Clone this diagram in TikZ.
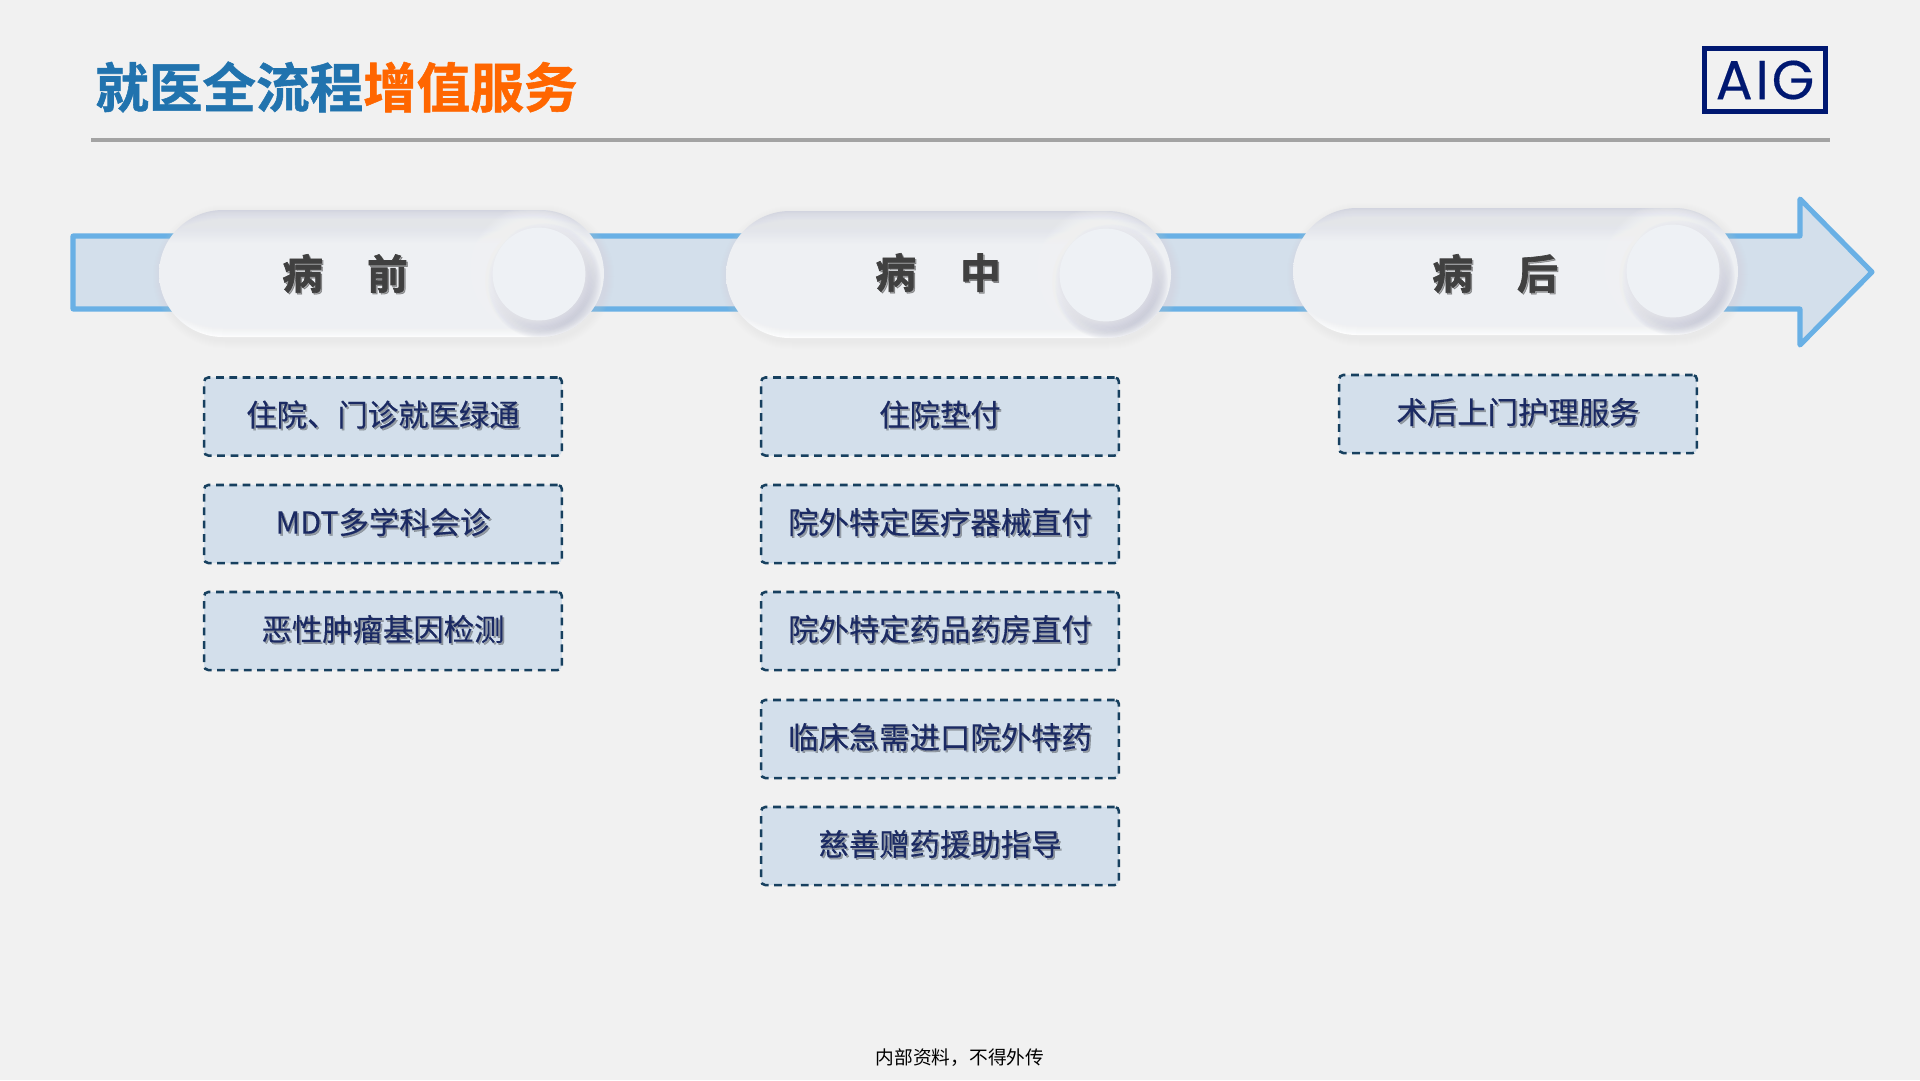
\documentclass[tikz,border=0pt]{standalone}
\usepackage{fontspec}
\setmainfont{Noto Sans CJK SC}
\newfontfamily\cjkreg{Noto Sans CJK SC}
\newfontfamily\cjkbox[FakeBold=0.25]{Noto Sans CJK SC}
\newfontfamily\cjkbold[FakeBold=1.0]{Noto Sans CJK SC Bold}
\newfontfamily\cjkhead[FakeBold=1.6]{Noto Sans CJK SC Bold}
\newfontfamily\logofont[FakeBold=0.3,LetterSpace=5]{Poppins}
\definecolor{bgc}{HTML}{F1F1F1}
\definecolor{arrowline}{HTML}{69B0E5}
\definecolor{arrowfill}{HTML}{D3DFEB}
\definecolor{titleblue}{HTML}{2173AE}
\definecolor{titleorange}{HTML}{FF6600}
\definecolor{rulegray}{HTML}{A3A3A3}
\definecolor{aigblue}{HTML}{001871}
\definecolor{pillbase}{HTML}{EEF0F3}
\definecolor{pillshadow}{HTML}{D2D4DF}
\definecolor{knobshadow}{HTML}{B4B6CA}
\definecolor{knobc}{HTML}{EEF1F5}
\definecolor{boxline}{HTML}{17405F}
\definecolor{boxtext}{HTML}{1B2A63}
\definecolor{headtext}{HTML}{404040}
\pgfdeclareverticalshading{pillshade}{100bp}{
  color(0bp)=(white!90!pillbase); color(25bp)=(white!90!pillbase);
  color(36bp)=(pillbase); color(62bp)=(pillbase);
  color(75bp)=(pillshadow); color(100bp)=(pillshadow)}
\tikzset{
  servicebox/.style={draw=boxline,fill=arrowfill,line width=1.8pt,dash pattern=on 5.5pt off 4pt,
    rounded corners=3pt,minimum width=254.5pt,minimum height=55.5pt,inner sep=0pt},
  servicetext/.style={font=\cjkbox\fontsize{21.6}{24}\selectfont,text=boxtext,inner sep=0pt},
  serviceshadow/.style={font=\cjkbox\fontsize{21.6}{24}\selectfont,text=black,opacity=0.3,inner sep=0pt},
  headlabel/.style={font=\cjkhead\fontsize{29}{32}\selectfont,text=headtext,inner sep=0pt},
  headshadow/.style={font=\cjkhead\fontsize{29}{32}\selectfont,text=black,opacity=0.3,inner sep=0pt},
  knobdisc/.style={circle,fill=knobc,draw=none,minimum size=66pt,inner sep=0pt},
}
% #1 left, #2 top, #3 knob centre x, #4 knob centre y
\newcommand{\neupill}[4]{%
  \pgfmathsetmacro{\pr}{#1+445}\pgfmathsetmacro{\pb}{#2+127}%
  \foreach \i in {1,...,8}{
    \fill[pillshadow,opacity=0.03,rounded corners=1.6cm+\i*0.025cm]
      (#1+2-\i,#2+3-\i) rectangle (\pr+2+\i,\pb+3+\i);
  }
  \begin{scope}
    \clip[rounded corners=1.6cm] (#1,#2) rectangle (\pr,\pb);
    \shade[shading=pillshade] (#1,#2) rectangle (\pr,\pb);
    \foreach \i in {1,...,24}{
      \pgfmathsetmacro{\ri}{1.6-\i*0.025}
      \fill[pillbase,opacity=0.09,rounded corners=\ri cm]
        (#1+\i,#2+\i) rectangle (\pr-\i,\pb-\i);
    }
    % dark shadow, down and to the right
    \foreach \i in {1,...,12}{
      \pgfmathsetmacro{\ra}{59-\i*1.1}
      \fill[knobshadow,opacity=0.07] (#3+4,#4+7) circle[radius=\ra*1];
    }
    % white glow around the knob, up and to the left
    \foreach \i in {1,...,14}{
      \pgfmathsetmacro{\ra}{64-\i*1.2}
      \fill[white,opacity=0.06] (#3-6,#4-5) circle[radius=\ra*1];
    }
  \end{scope}
}
\begin{document}
\begin{tikzpicture}[x=0.025cm,y=-0.025cm]
\useasboundingbox (0,0) rectangle (1920,1080);
\fill[bgc] (0,0) rectangle (1920,1080);

% title and rule
\node[anchor=west,inner sep=0pt,font=\cjkbold\fontsize{38.1}{42}\selectfont] (title) at (95,87)
  {\textcolor{titleblue}{就医全流程}\textcolor{titleorange}{增值服务}};
\coordinate (ruleL) at (91,140);
\coordinate (ruleR) at (1830,140);
\draw[rulegray,line width=2.2pt] (ruleL) -- (ruleR);

% logo
\node[draw=aigblue,line width=3.6pt,minimum width=86pt,minimum height=45pt,inner sep=0pt,
  text=aigblue,font=\logofont\fontsize{39}{40}\selectfont] (logo) at (1765,80) {AIG};

% timeline arrow
\draw[draw=arrowline,fill=arrowfill,line width=3.6pt,line join=round]
  (73,236) -- (1800,236) -- (1800,199) -- (1872,272) -- (1800,345) -- (1800,309) -- (73,309) -- cycle;

% pills
\neupill{159}{210}{539}{274}
\neupill{726}{211}{1106}{275}
\neupill{1293}{208}{1673}{271}
\node[knobdisc] (knobA) at (539,274) {};
\node[knobdisc] (knobB) at (1106,275) {};
\node[knobdisc] (knobC) at (1673,271) {};

\node[headshadow] (headAs) at (346.5,275) {病\hspace{1.08em}前};
\node[headlabel]  (headA)  at (345,273.5) {病\hspace{1.08em}前};
\node[headshadow] (headBs) at (939.5,274) {病\hspace{1.08em}中};
\node[headlabel]  (headB)  at (938,272.5) {病\hspace{1.08em}中};
\node[headshadow] (headCs) at (1496.5,275) {病\hspace{1.08em}后};
\node[headlabel]  (headC)  at (1495,273.5) {病\hspace{1.08em}后};

% service boxes: column 1
\node[servicebox] (a1) at (383,416.5) {};
\node[servicebox] (a2) at (383,524) {};
\node[servicebox] (a3) at (383,631) {};
% column 2
\node[servicebox] (b1) at (940,416.5) {};
\node[servicebox] (b2) at (940,524) {};
\node[servicebox] (b3) at (940,631) {};
\node[servicebox] (b4) at (940,739) {};
\node[servicebox] (b5) at (940,846) {};
% column 3
\node[servicebox] (c1) at (1518,414) {};

\foreach \nm/\tx in {a1/住院、门诊就医绿通,a2/MDT多学科会诊,a3/恶性肿瘤基因检测,
  b1/住院垫付,b2/院外特定医疗器械直付,b3/院外特定药品药房直付,b4/临床急需进口院外特药,b5/慈善赠药援助指导,
  c1/术后上门护理服务}{
  \node[serviceshadow] (\nm s) at ([xshift=1.2pt,yshift=0.1pt]\nm.center) {\tx};
  \node[servicetext] (\nm t) at ([yshift=1.4pt]\nm.center) {\tx};
}

% footer
\node[inner sep=0pt,font=\cjkreg\fontsize{13.3}{15}\selectfont,text=black] (foot) at (960,1058) {内部资料，不得外传};
\end{tikzpicture}
\end{document}
